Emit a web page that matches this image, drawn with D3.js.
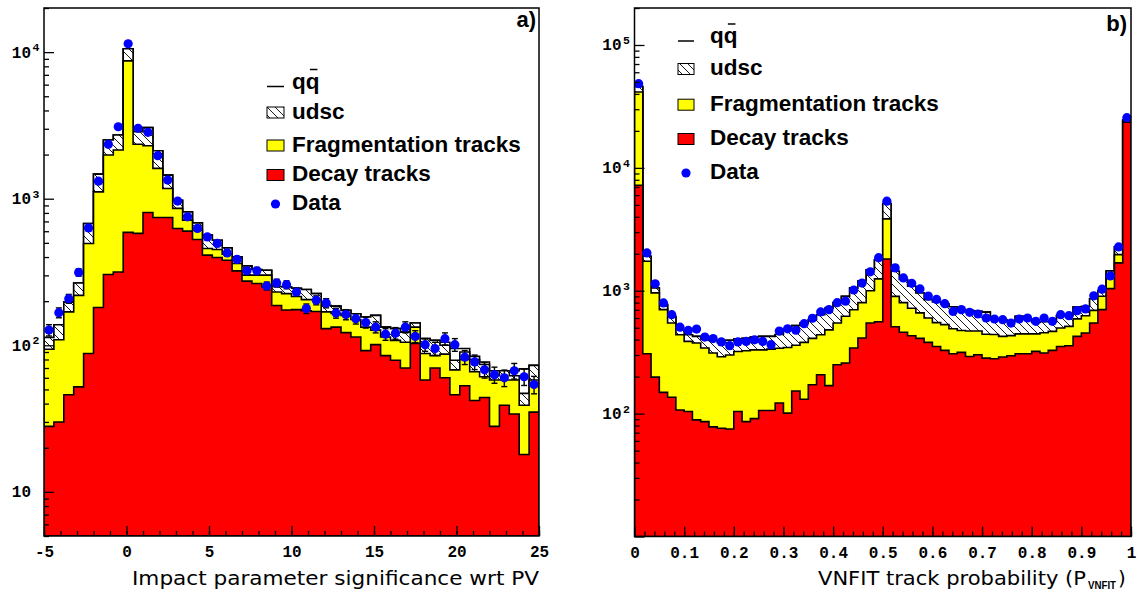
<!DOCTYPE html>
<html>
<head>
<meta charset="utf-8">
<script src="https://cdn.jsdelivr.net/npm/d3@7"></script>
<style>
	body { margin: 0; background: #fff; }
</style>
</head>
<body>
<div id="chart"></div>
<script>
'use strict'

// a) impact parameter significance, 50 bins from -5 to 25
// stack tops (decay, decay+fragmentation, udsc, qq)
var decayA = [28,30,46,52,88,181,304,316,589,580,806,745,745,627,601,527,412,397,380,322,274,264,250,187,174,175,172,170,130,133,122,114,92,101,85,79,70,103,58,70,60,46,53,42,44,28,39,34,18,35];
var fragTopA = [94,109,169,219,495,1114,1986,2148,8720,2350,2300,1610,1175,859,714,611,457,450,418,361,301,301,301,231,225,215,205,205,169,165,160,150,133,127,114,108,105,133,88,85,87,68,80,66,61,58,58,58,39,58];
var udscTopA = [113,138,197,266,678,1472,2516,2722,10540,2864,3053,2124,1449,977,813,684,564,521,462,401,348,329,325,252,250,245,240,225,187,185,173,164,156,160,133,130,123,142,111,108,100,79,90,80,74,62,67,62,47,73];
var qqA = [113,138,197,266,678,1472,2516,2722,10540,2864,3053,2124,1449,977,813,684,564,521,462,401,348,329,325,252,250,245,240,225,187,185,173,164,156,160,133,130,123,142,111,108,105,95,95,84,77,67,67,67,69,73];
var dataA = [127,167,208,314,632,1318,2350,3097,11400,3020,2838,1965,1340,963,752,627,549,495,427,385,322,322,254,266,259,231,178,203,194,166,162,152,143,133,119,121,133,115,101,95,111,101,83,77,68,63,60,67,61,54];
var xTicksA = [-5, 0, 5, 10, 15, 20, 25];

// b) VNFIT track probability, 60 bins from 0 to 1
var decayB = [7230,307,198,149,136,107,104,89,86,78,76,75,104,86,91,106,106,122,101,153,131,172,207,169,250,258,342,412,546,560,1815,510,460,430,410,380,352,327,307,315,292,301,283,280,289,296,307,307,321,311,327,352,357,425,453,546,702,1040,1686,23550];
var fragTopB = [41400,1738,960,702,546,439,387,376,342,311,290,300,320,325,330,330,335,340,345,360,380,410,439,480,546,620,700,800,1000,1250,3845,900,800,720,660,600,550,530,490,475,470,470,442,440,425,431,446,446,446,455,467,498,513,590,626,692,901,1370,1968,24000];
var qqB = [45800,1906,1054,771,618,482,439,425,405,394,377,395,405,410,420,425,425,440,482,520,545,581,638,720,800,900,1050,1200,1480,1790,5130,1439,1234,1087,960,845,810,780,740,702,690,680,670,581,581,560,620,590,553,560,560,627,627,738,744,860,1000,1450,2275,24500];
// in b) the hatched udsc part reaches the qq line everywhere
var udscTopB = qqB.slice();
var dataB = [48400,2030,1140,796,639,505,475,488,420,408,383,357,383,387,399,387,364,470,490,477,540,597,672,702,800,823,1014,1155,1425,1860,5357,1535,1271,1150,1035,905,850,785,679,702,667,647,600,589,581,546,589,600,564,600,564,639,627,689,711,910,1030,1320,2275,25600];
var xTicksB = [0, 0.1, 0.2, 0.3, 0.4, 0.5, 0.6, 0.7, 0.8, 0.9, 1];

var legendLabels = ["qq", "udsc", "Fragmentation tracks", "Decay tracks", "Data"];

var width = 1138,
	height = 598;

var svg = d3.select("#chart")
	.append("svg")
		.attr("width", width)
		.attr("height", height)
		.style("background", "white");

var defs = svg.append("defs");

// diagonal hatching for udsc
var hatch = defs.append("pattern")
	.attr("id", "hatch")
	.attr("patternUnits", "userSpaceOnUse")
	.attr("width", 8)
	.attr("height", 8);
hatch.append("rect").attr("width", 8).attr("height", 8).attr("fill", "white");
hatch.append("path")
	.attr("d", "M-2,-2L10,10M-2,6L2,10M6,-2L10,2")
	.attr("stroke", "black")
	.attr("stroke-width", 0.9);

var monoFont = "'Liberation Mono', 'DejaVu Sans Mono', monospace";
var boldFont = "'Liberation Sans', Arial, sans-serif";
var titleFont = "'DejaVu Sans', sans-serif";

function drawPanel(p) {
	var x = d3.scaleLinear().domain(p.xDomain).range([p.left, p.right]);
	var y = d3.scaleLog().domain(p.yDomain).range([p.bottom, p.top]);
	var n = p.data.length;
	var step = (p.xDomain[1] - p.xDomain[0]) / n;

	defs.append("clipPath")
		.attr("id", "clip-" + p.name)
		.append("rect")
			.attr("x", p.left)
			.attr("y", p.top)
			.attr("width", p.right - p.left)
			.attr("height", p.bottom - p.top);

	// one point per low edge plus the last high edge, for the step curve
	function stepPoints(vals) {
		var pts = vals.map(function (v, i) { return [p.xDomain[0] + i * step, v]; });
		pts.push([p.xDomain[1], vals[n - 1]]);
		return pts;
	}

	var area = d3.area()
		.curve(d3.curveStepAfter)
		.x(function (d) { return x(d[0]); })
		.y0(p.bottom)
		.y1(function (d) { return y(d[1]); });

	var hists = svg.append("g").attr("clip-path", "url(#clip-" + p.name + ")");
	[[p.qq, "white"], [p.udsc, "url(#hatch)"], [p.frag, "#ffff00"], [p.decay, "#ff0000"]].forEach(function (h) {
		hists.append("path")
			.datum(stepPoints(h[0]))
			.attr("d", area)
			.attr("fill", h[1])
			.attr("stroke", "black")
			.attr("stroke-width", 1.6);
	});

	// data with poisson error bars
	var pts = svg.append("g");
	var cx = function (i) { return x(p.xDomain[0] + (i + 0.5) * step); };
	pts.selectAll("line.err")
		.data(p.data)
		.enter()
		.append("line")
			.attr("x1", function (d, i) { return cx(i); })
			.attr("x2", function (d, i) { return cx(i); })
			.attr("y1", function (d) { return y(d + Math.sqrt(d)); })
			.attr("y2", function (d) { return y(d - Math.sqrt(d)); })
			.attr("stroke", "black")
			.attr("stroke-width", 1.4);
	[1, -1].forEach(function (s) {
		pts.selectAll("line.cap" + s)
			.data(p.data)
			.enter()
			.append("line")
				.attr("x1", function (d, i) { return cx(i) - 3; })
				.attr("x2", function (d, i) { return cx(i) + 3; })
				.attr("y1", function (d) { return y(d + s * Math.sqrt(d)); })
				.attr("y2", function (d) { return y(d + s * Math.sqrt(d)); })
				.attr("stroke", "black")
				.attr("stroke-width", 1.4);
	});
	pts.selectAll("circle")
		.data(p.data)
		.enter()
		.append("circle")
			.attr("cx", function (d, i) { return cx(i); })
			.attr("cy", function (d) { return y(d); })
			.attr("r", 4.6)
			.attr("fill", "#0000ff");

	// frame
	svg.append("rect")
		.attr("x", p.left)
		.attr("y", p.top)
		.attr("width", p.right - p.left)
		.attr("height", p.bottom - p.top)
		.attr("fill", "none")
		.attr("stroke", "black")
		.attr("stroke-width", 1.5);

	// x axis, ticks pointing inside
	var xMajor = svg.append("g")
		.attr("transform", "translate(0," + p.bottom + ")")
		.call(d3.axisBottom(x).tickValues(p.xTicks).tickSize(-10).tickPadding(10).tickFormat(p.xFormat));
	xMajor.select(".domain").remove();
	xMajor.selectAll("line").attr("stroke-width", 1.3);
	xMajor.selectAll("text")
		.attr("font-family", monoFont)
		.attr("font-size", 16)
		.attr("font-weight", "bold")
		.attr("fill", "black");
	var xMinor = svg.append("g")
		.attr("transform", "translate(0," + p.bottom + ")")
		.call(d3.axisBottom(x).tickValues(p.xMinor).tickSize(-5).tickFormat(""));
	xMinor.select(".domain").remove();
	xMinor.selectAll("line").attr("stroke-width", 1.3);

	// log y axis: decades and 2..9 minors
	var lo = Math.ceil(Math.log10(p.yDomain[0])),
		hi = Math.floor(Math.log10(p.yDomain[1]));
	var decades = d3.range(lo, hi + 1).map(function (e) { return Math.pow(10, e); });
	var minors = [];
	d3.range(lo - 1, hi + 1).forEach(function (e) {
		d3.range(2, 10).forEach(function (m) {
			var v = m * Math.pow(10, e);
			if (v >= p.yDomain[0] && v <= p.yDomain[1]) minors.push(v);
		});
	});
	var yMajor = svg.append("g")
		.attr("transform", "translate(" + p.left + ",0)")
		.call(d3.axisLeft(y).tickValues(decades).tickSize(-10).tickFormat(""));
	yMajor.select(".domain").remove();
	yMajor.selectAll("line").attr("stroke-width", 1.3);
	var yMinor = svg.append("g")
		.attr("transform", "translate(" + p.left + ",0)")
		.call(d3.axisLeft(y).tickValues(minors).tickSize(-5).tickFormat(""));
	yMinor.select(".domain").remove();
	yMinor.selectAll("line").attr("stroke-width", 1.3);

	// labels only for decades inside the frame
	decades.filter(function (v) { return v > p.yDomain[0]; }).forEach(function (v) {
		var e = Math.round(Math.log10(v));
		svg.append("text")
			.attr("x", p.left - 13)
			.attr("y", y(v) + 5.5)
			.attr("text-anchor", "end")
			.attr("font-family", monoFont)
			.attr("font-size", 16)
			.attr("font-weight", "bold")
			.text("10");
		if (e > 1) {
			svg.append("text")
				.attr("x", p.left - 11.5)
				.attr("y", y(v) - 1)
				.attr("font-family", monoFont)
				.attr("font-size", 11.5)
				.attr("font-weight", "bold")
				.text(e);
		}
	});

	// panel letter
	svg.append("text")
		.attr("x", p.letterPos[0])
		.attr("y", p.letterPos[1])
		.attr("text-anchor", "end")
		.attr("font-family", boldFont)
		.attr("font-size", 22)
		.attr("font-weight", "bold")
		.text(p.name + ")");

	// legend
	var L = p.legend;
	var colors = [null, "url(#hatch)", "#ffff00", "#ff0000"];
	legendLabels.forEach(function (label, i) {
		var base = L.rows[i];
		var t = svg.append("text")
			.attr("x", L.textX)
			.attr("y", base)
			.attr("font-family", boldFont)
			.attr("font-size", 22.5)
			.attr("font-weight", "bold")
			.text(label);
		if (i === 0) {
			svg.append("line")
				.attr("x1", L.boxX).attr("x2", L.boxX + L.boxW)
				.attr("y1", base - 2).attr("y2", base - 2)
				.attr("stroke", "black").attr("stroke-width", 1.5);
			// bar over the second q
			var ext = t.node().getExtentOfChar(1);
			svg.append("line")
				.attr("x1", ext.x + ext.width * 0.3).attr("x2", ext.x + ext.width * 0.85)
				.attr("y1", base - 19).attr("y2", base - 19)
				.attr("stroke", "black").attr("stroke-width", 1.5);
		} else if (i < 4) {
			svg.append("rect")
				.attr("x", L.boxX).attr("y", base - 11.5)
				.attr("width", L.boxW).attr("height", 11)
				.attr("fill", colors[i])
				.attr("stroke", "black").attr("stroke-width", 1);
		} else {
			svg.append("circle")
				.attr("cx", L.boxX + L.boxW / 2).attr("cy", base - 6)
				.attr("r", 4.6).attr("fill", "#0000ff");
		}
	});
}

drawPanel({
	name: "a",
	left: 44, right: 539, top: 8, bottom: 536,
	xDomain: [-5, 25], yDomain: [5, 20000],
	decay: decayA, frag: fragTopA, udsc: udscTopA, qq: qqA, data: dataA,
	xTicks: xTicksA, xMinor: d3.range(-5, 26, 1),
	xFormat: function (d) { return String(d); },
	letterPos: [536, 27],
	legend: { boxX: 267, boxW: 17, textX: 292, rows: [88.5, 118.5, 151.5, 181, 210] }
});

drawPanel({
	name: "b",
	left: 634.5, right: 1131, top: 8, bottom: 536.5,
	xDomain: [0, 1], yDomain: [10, 200000],
	decay: decayB, frag: fragTopB, udsc: udscTopB, qq: qqB, data: dataB,
	xTicks: xTicksB, xMinor: d3.range(51).map(function (i) { return i / 50; }),
	xFormat: function (d) { return (d === 0 || d === 1) ? String(d) : d3.format(".1f")(d); },
	letterPos: [1127, 31],
	legend: { boxX: 678, boxW: 16, textX: 710, rows: [43, 75, 110.7, 145, 179] }
});

// axis titles
svg.append("text")
	.attr("x", 132)
	.attr("y", 585)
	.attr("font-family", titleFont)
	.attr("font-size", 20)
	.attr("textLength", 407)
	.attr("lengthAdjust", "spacingAndGlyphs")
	.text("Impact parameter significance wrt PV");

svg.append("text")
	.attr("x", 818)
	.attr("y", 585)
	.attr("font-family", titleFont)
	.attr("font-size", 20)
	.attr("textLength", 268)
	.attr("lengthAdjust", "spacingAndGlyphs")
	.text("VNFIT track probability (P");
svg.append("text")
	.attr("x", 1088)
	.attr("y", 588.5)
	.attr("font-family", boldFont)
	.attr("font-size", 10)
	.attr("font-weight", "bold")
	.attr("textLength", 28)
	.attr("lengthAdjust", "spacingAndGlyphs")
	.text("VNFIT");
svg.append("text")
	.attr("x", 1118)
	.attr("y", 585)
	.attr("font-family", titleFont)
	.attr("font-size", 20)
	.text(")");
</script>
</body>
</html>
